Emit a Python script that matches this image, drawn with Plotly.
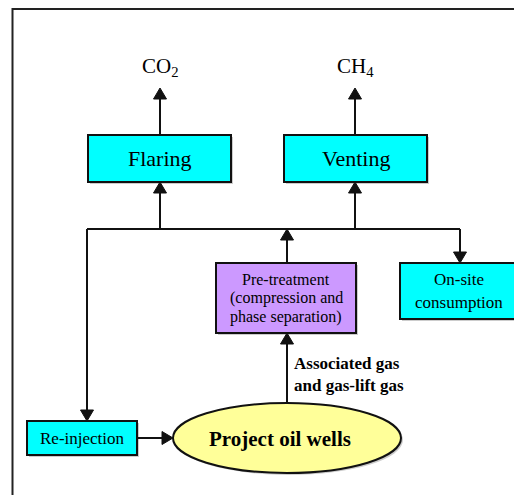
import plotly.graph_objects as go

# ---- data (labels of the flow diagram) ----
emission_labels = ["CO<sub>2</sub>", "CH<sub>4</sub>"]
box_labels = [["Flaring"], ["Venting"],
              ["Pre-treatment", "(compression and", "phase separation)"],
              ["On-site", "consumption"], ["Re-injection"]]
box_colors = ["#00FFFF", "#00FFFF", "#CC99FF", "#00FFFF", "#00FFFF"]
well_label = "Project oil wells"
flow_label = ["Associated gas", "and gas-lift gas"]

# ---- layout geometry (page pixel coordinates of the diagram) ----
W, H = 522, 495
OFF = 8  # page body margin
boxes = [  # x0, x1, y0, y1, font size, line spacing
    (88, 231, 135, 182, 22, 0),
    (284, 427, 135, 182, 22, 0),
    (216, 356, 263, 333, 16, 19),
    (400, 518, 263, 319, 17, 23),
    (27, 137, 421, 455, 17, 0),
]
emis_pos = [(160, 67), (355, 67)]
ellipse = (173, 401, 403, 473)

FONT = "Liberation Serif, Times New Roman, serif"
LC = "#111111"
fig = go.Figure()
fig.add_trace(go.Scatter(x=[OFF, W + OFF], y=[OFF, H + OFF], mode="markers",
                         marker=dict(opacity=0), hoverinfo="skip", showlegend=False))

shapes = []
annotations = []

# outer frame
shapes.append(dict(type="rect", x0=12.5, y0=OFF + 1, x1=W + 20, y1=H + 20,
                   line=dict(color="#222222", width=2), fillcolor="rgba(0,0,0,0)"))

# boxes
for (x0, x1, y0, y1, fs, ls), lines, col in zip(boxes, box_labels, box_colors):
    shapes.append(dict(type="rect", x0=x0 + 2, y0=y0 + 2, x1=x1 + 2, y1=y1 + 2,
                       line=dict(width=0), fillcolor="rgba(0,0,0,0.2)", layer="below"))
    shapes.append(dict(type="rect", x0=x0, y0=y0, x1=x1, y1=y1,
                       line=dict(color=LC, width=2), fillcolor=col))
    cy = (y0 + y1) / 2
    n = len(lines)
    for i, lab in enumerate(lines):
        annotations.append(dict(x=(x0 + x1) / 2, y=cy + (i - (n - 1) / 2) * ls,
                                text=lab, showarrow=False,
                                font=dict(family=FONT, size=fs, color="black"),
                                xanchor="center", yanchor="middle"))

# ellipse
ex0, ex1, ey0, ey1 = ellipse
shapes.append(dict(type="circle", x0=ex0 + 2, y0=ey0 + 2, x1=ex1 + 2, y1=ey1 + 2,
                   line=dict(width=0), fillcolor="rgba(0,0,0,0.2)"))
shapes.append(dict(type="circle", x0=ex0, y0=ey0, x1=ex1, y1=ey1,
                   line=dict(color=LC, width=2), fillcolor="#FFFF99"))
annotations.append(dict(x=280, y=439, text=well_label, showarrow=False,
                        font=dict(family=FONT, size=21, color="black", weight="bold"),
                        xanchor="center", yanchor="middle"))

# emission labels
for (x, y), lab in zip(emis_pos, emission_labels):
    annotations.append(dict(x=x, y=y, text=lab, showarrow=False,
                            font=dict(family=FONT, size=21, color="black"),
                            xanchor="center", yanchor="middle"))

# flow label
for i, lab in enumerate(flow_label):
    annotations.append(dict(x=292, y=363 + 22 * i, text=lab, showarrow=False,
                            font=dict(family=FONT, size=17, color="black", weight="bold"),
                            xanchor="left", yanchor="middle"))

# bus line
shapes.append(dict(type="line", x0=87, y0=229, x1=460, y1=229,
                   line=dict(color=LC, width=2)))

# arrows: (tail_x, tail_y, head_x, head_y)
arrows = [
    (160, 135, 160, 88),
    (355, 135, 355, 88),
    (160, 229, 160, 182),
    (355, 229, 355, 182),
    (287, 263, 287, 229),
    (460, 229, 460, 263),
    (87, 229, 87, 421),
    (137, 438, 173, 438),
    (287, 403, 287, 333),
]
HL, HW = 11, 6.5
for tx, ty, hx, hy in arrows:
    dx, dy = hx - tx, hy - ty
    n = (dx * dx + dy * dy) ** 0.5
    ux, uy = dx / n, dy / n
    bx, by = hx - ux * HL, hy - uy * HL
    shapes.append(dict(type="line", x0=tx, y0=ty, x1=bx, y1=by,
                       line=dict(color=LC, width=2)))
    px, py = -uy, ux
    path = (f"M {hx},{hy} L {bx + px * HW},{by + py * HW} "
            f"L {bx - px * HW},{by - py * HW} Z")
    shapes.append(dict(type="path", path=path, fillcolor=LC,
                       line=dict(color=LC, width=1)))

fig.update_layout(
    width=W, height=H, autosize=False,
    margin=dict(l=0, r=0, t=0, b=0),
    paper_bgcolor="white", plot_bgcolor="white",
    xaxis=dict(range=[OFF, W + OFF], visible=False, fixedrange=True),
    yaxis=dict(range=[H + OFF, OFF], visible=False, fixedrange=True),
    shapes=shapes, annotations=annotations, showlegend=False,
)
fig.write_html("out.html")
